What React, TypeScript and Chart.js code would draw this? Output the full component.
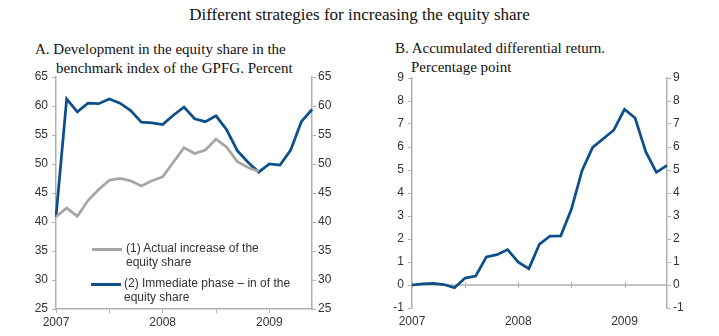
import React, { useEffect, useRef } from "react";
import { Chart, registerables } from "chart.js";

Chart.register(...registerables);

// ---- Data ----
const X_LABELS = [
  "2007", "", "", "", "", "", "", "", "", "",
  "2008", "", "", "", "", "", "", "", "", "",
  "2009", "", "", "", "",
];

const ACTUAL_INCREASE = [
  40.9, 42.4, 41.0, 43.7, 45.6, 47.2, 47.5, 47.1, 46.2, 47.1,
  47.8, 50.3, 52.8, 51.8, 52.4, 54.3, 52.9, 50.4, 49.4, 48.7,
  null, null, null, null, null,
];

const IMMEDIATE_PHASE_IN = [
  40.9, 61.2, 59.0, 60.5, 60.4, 61.2, 60.5, 59.2, 57.2, 57.1,
  56.8, 58.4, 59.8, 57.8, 57.3, 58.3, 55.9, 52.3, 50.3, 48.6,
  50.0, 49.8, 52.4, 57.3, 59.4,
];

const DIFF_RETURN = [
  0.0, 0.05, 0.07, 0.02, -0.12, 0.3, 0.39, 1.22, 1.32, 1.54,
  0.99, 0.71, 1.78, 2.13, 2.14, 3.29, 4.97, 5.98, 6.36, 6.74,
  7.64, 7.26, 5.8, 4.9, 5.2,
];

const LEGEND_A = [
  "(1) Actual increase of the|equity share",
  "(2) Immediate phase – in of the|equity share",
];

const BLUE = "#0d4f8b";
const GREY = "#a6a6a6";
const AXIS = "#b0b0b0";
const TEXT = "#333333";
const SANS = "'Liberation Sans', Arial, sans-serif";
const SERIF = "'Liberation Serif', 'Times New Roman', serif";

const tickFont = { family: SANS, size: 12 };

function yAxis(position: "left" | "right", min: number, max: number, step: number, width: number) {
  return {
    type: "linear" as const,
    position,
    min,
    max,
    display: true,
    border: { display: true, color: AXIS, width: 1.5 },
    grid: { display: true, drawOnChartArea: false, drawTicks: true, tickLength: 4, color: AXIS, lineWidth: 1 },
    ticks: { stepSize: step, color: TEXT, font: tickFont, padding: position === "left" ? 4 : 2 },
    afterFit: (s: any) => {
      s.width = width;
    },
  };
}

const zeroLinePlugin = {
  id: "zeroLine",
  beforeDatasetsDraw(chart: any) {
    const { ctx, chartArea, scales } = chart;
    const y = scales.y.getPixelForValue(0);
    ctx.save();
    ctx.strokeStyle = AXIS;
    ctx.lineWidth = 1.5;
    ctx.beginPath();
    ctx.moveTo(chartArea.left, y);
    ctx.lineTo(chartArea.right, y);
    ctx.stroke();
    ctx.lineWidth = 1;
    for (let i = 0; i < X_LABELS.length; i += 5) {
      const x = Math.round(scales.x.getPixelForValue(i)) + 0.5;
      ctx.beginPath();
      ctx.moveTo(x, y - 3);
      ctx.lineTo(x, y + 3);
      ctx.stroke();
    }
    ctx.restore();
  },
};

function ChartA() {
  const ref = useRef<HTMLCanvasElement>(null);
  useEffect(() => {
    const chart = new Chart(ref.current!, {
      type: "line",
      data: {
        labels: X_LABELS,
        datasets: [
          {
            label: "(1) Actual increase of the equity share",
            data: ACTUAL_INCREASE,
            borderColor: GREY,
            borderWidth: 2.75,
            pointRadius: 0,
            tension: 0,
            yAxisID: "y",
          },
          {
            label: "(2) Immediate phase – in of the equity share",
            data: IMMEDIATE_PHASE_IN,
            borderColor: BLUE,
            borderWidth: 2.75,
            pointRadius: 0,
            tension: 0,
            yAxisID: "y",
          },
        ],
      },
      options: {
        animation: false,
        responsive: false,
        layout: { padding: { top: 17, left: 0, right: 0, bottom: 0 } },
        plugins: { legend: { display: false }, tooltip: { enabled: false }, title: { display: false } },
        scales: {
          x: {
            type: "category",
            offset: false,
            border: { display: true, color: AXIS, width: 1.5 },
            grid: {
              display: true,
              drawOnChartArea: false,
              drawTicks: true,
              tickLength: 4,
              color: (c: any) => (c.index % 5 === 0 ? AXIS : "rgba(0,0,0,0)"),
            },
            ticks: { autoSkip: false, maxRotation: 0, color: TEXT, font: tickFont, padding: 2 },
            afterFit: (s: any) => {
              s.height = 27;
            },
          },
          y: yAxis("left", 25, 65, 5, 56),
          y2: yAxis("right", 25, 65, 5, 48),
        },
      },
    });
    return () => chart.destroy();
  }, []);
  return <canvas ref={ref} width={360} height={276} style={{ position: "absolute", left: 0, top: 60 }} />;
}

function ChartB() {
  const ref = useRef<HTMLCanvasElement>(null);
  useEffect(() => {
    const chart = new Chart(ref.current!, {
      type: "line",
      data: {
        labels: X_LABELS,
        datasets: [
          {
            label: "Accumulated differential return",
            data: DIFF_RETURN,
            borderColor: BLUE,
            borderWidth: 2.75,
            pointRadius: 0,
            tension: 0,
            yAxisID: "y",
          },
        ],
      },
      options: {
        animation: false,
        responsive: false,
        layout: { padding: { top: 18, left: 0, right: 0, bottom: 0 } },
        plugins: { legend: { display: false }, tooltip: { enabled: false }, title: { display: false } },
        scales: {
          x: {
            type: "category",
            offset: false,
            border: { display: false },
            grid: { display: false, drawTicks: true, tickLength: 4 },
            ticks: { autoSkip: false, maxRotation: 0, color: TEXT, font: tickFont, padding: 2 },
            afterFit: (s: any) => {
              s.height = 28;
            },
          },
          y: yAxis("left", -1, 9, 1, 52),
          y2: yAxis("right", -1, 9, 1, 52),
        },
      },
      plugins: [zeroLinePlugin],
    });
    return () => chart.destroy();
  }, []);
  return <canvas ref={ref} width={359} height={276} style={{ position: "absolute", left: 360, top: 60 }} />;
}

function Legend() {
  const items = [
    { color: GREY, text: LEGEND_A[0], lineLeft: 92, textLeft: 126, top: 249 },
    { color: BLUE, text: LEGEND_A[1], lineLeft: 91, textLeft: 124, top: 284 },
  ];
  return (
    <>
      {items.map((it, i) => {
        const [l1, l2] = it.text.split("|");
        return (
          <React.Fragment key={i}>
            <div
              style={{
                position: "absolute",
                left: it.lineLeft,
                top: it.top - 1.5,
                width: 30,
                height: 3,
                background: it.color,
              }}
            />
            <div
              style={{
                position: "absolute",
                left: it.textLeft,
                top: it.top - 8,
                font: `12px ${SANS}`,
                lineHeight: "14px",
                color: TEXT,
                whiteSpace: "nowrap",
              }}
            >
              {l1}
              <br />
              {l2}
            </div>
          </React.Fragment>
        );
      })}
    </>
  );
}

const titleStyle: React.CSSProperties = {
  position: "absolute",
  font: `15px ${SERIF}`,
  lineHeight: "19px",
  color: "#111",
  whiteSpace: "nowrap",
};

export default function App() {
  return (
    <div
      style={{
        position: "absolute",
        left: 0,
        top: 0,
        width: 719,
        height: 336,
        background: "#fff",
        overflow: "hidden",
      }}
    >
      <div
        style={{
          position: "absolute",
          left: 0,
          top: 6,
          width: 719,
          textAlign: "center",
          font: `17px ${SERIF}`,
          lineHeight: "17px",
          color: "#111",
        }}
      >
        Different strategies for increasing the equity share
      </div>
      <div style={{ ...titleStyle, left: 35, top: 40 }}>A. Development in the equity share in the</div>
      <div style={{ ...titleStyle, left: 56, top: 59 }}>benchmark index of the GPFG. Percent</div>
      <div style={{ ...titleStyle, left: 395, top: 39 }}>B. Accumulated differential return.</div>
      <div style={{ ...titleStyle, left: 411, top: 58 }}>Percentage point</div>
      <ChartA />
      <ChartB />
      <Legend />
    </div>
  );
}
